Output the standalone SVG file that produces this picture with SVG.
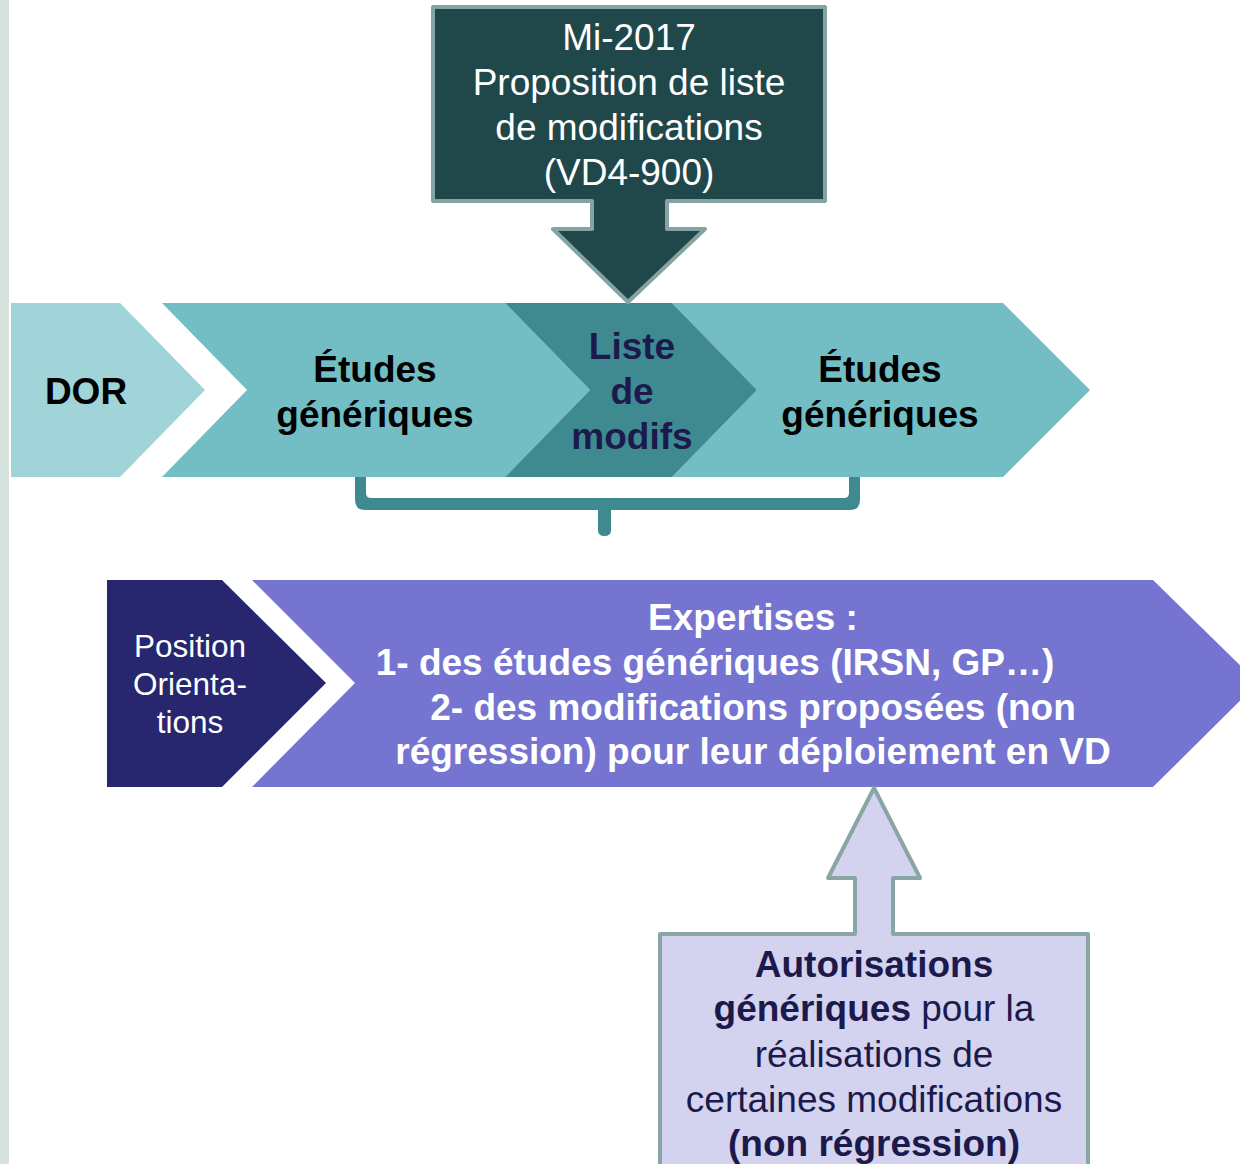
<svg xmlns="http://www.w3.org/2000/svg" width="1240" height="1164" viewBox="0 0 1240 1164">
<style>
.t{font-family:"Liberation Sans",Arial,sans-serif;text-anchor:middle;font-size:37px}
.b{font-weight:bold}
.w{fill:#ffffff}
.k{fill:#000000}
.n{fill:#1c1a4c}
.lt{fill:#72bec4}
.dk{fill:#3e8a90}
</style>
<rect x="0" y="0" width="1240" height="1164" fill="#ffffff"/>
<rect x="0" y="0" width="9" height="1164" fill="#d6e2dd"/>

<g id="dor">
<path d="M11,303 H120 L205,390 L120,477 H11 Z" fill="#a0d4d8"/>
<text class="t b k" x="86" y="404">DOR</text>
</g>
<g id="etudes1">
<path class="lt" d="M162,303 H505 L590,390 L505,477 H162 L247,390 Z"/>
<text class="t b k" x="375" y="382">Études</text>
<text class="t b k" x="375" y="427">génériques</text>
</g>
<g id="etudes2">
<path class="lt" d="M672,303 H1003 L1090,390 L1003,477 H672 L757,390 Z"/>
<text class="t b k" x="880" y="382">Études</text>
<text class="t b k" x="880" y="427">génériques</text>
</g>
<g id="liste">
<path class="dk" d="M505,303 H672 L757,390 L672,477 H505 L590,390 Z"/>
<text class="t b n" x="632" y="359">Liste</text>
<text class="t b n" x="632" y="404">de</text>
<text class="t b n" x="632" y="449">modifs</text>
</g>

<g id="proposition">
<path d="M433,7 H825 V201 H667 V229 H705 L628,302 L553,229 H592 V201 H433 Z" fill="#20484a" stroke="#84a3a3" stroke-width="4" stroke-linejoin="round"/>
<text class="t w" x="629" y="50">Mi-2017</text>
<text class="t w" x="629" y="95">Proposition de liste</text>
<text class="t w" x="629" y="140">de modifications</text>
<text class="t w" x="629" y="185">(VD4-900)</text>
</g>

<g id="connectors">
<path class="dk" d="M355,477 H366 V493 Q366,498 371,498 H844 Q849,498 849,493 V477 H860 V500 Q860,510 850,510 H611 V530 Q611,536 604.5,536 Q598,536 598,530 V510 H365 Q355,510 355,500 Z"/>
</g>

<g id="position">
<path d="M107,580 H222 L326,683 L222,787 H107 Z" fill="#27266e"/>
<text class="t w" style="font-size:31.5px" x="190" y="657">Position</text>
<text class="t w" style="font-size:31.5px" x="190" y="695">Orienta-</text>
<text class="t w" style="font-size:31.5px" x="190" y="733">tions</text>
</g>

<g id="expertises">
<path d="M252,580 H1153 L1258,683 L1153,787 H252 L355,683 Z" fill="#7574d0"/>
<text class="t b w" x="753" y="630">Expertises :</text>
<text class="t b w" x="715" y="675">1- des études génériques (IRSN, GP…)</text>
<text class="t b w" x="753" y="720">2- des modifications proposées (non</text>
<text class="t b w" x="753" y="764">régression) pour leur déploiement en VD</text>
</g>

<g id="autorisations">
<path d="M660,934 H855 V878 H828 L874,788 L920,878 H893 V934 H1088 V1170 H660 Z" fill="#d3d3f0" stroke="#8aa5a5" stroke-width="4" stroke-linejoin="round"/>
<text class="t b n" x="874" y="977">Autorisations</text>
<text class="t n" x="874" y="1021"><tspan class="b">génériques</tspan> pour la</text>
<text class="t n" x="874" y="1067">réalisations de</text>
<text class="t n" x="874" y="1112">certaines modifications</text>
<text class="t b n" x="874" y="1156">(non régression)</text>
</g>
</svg>
